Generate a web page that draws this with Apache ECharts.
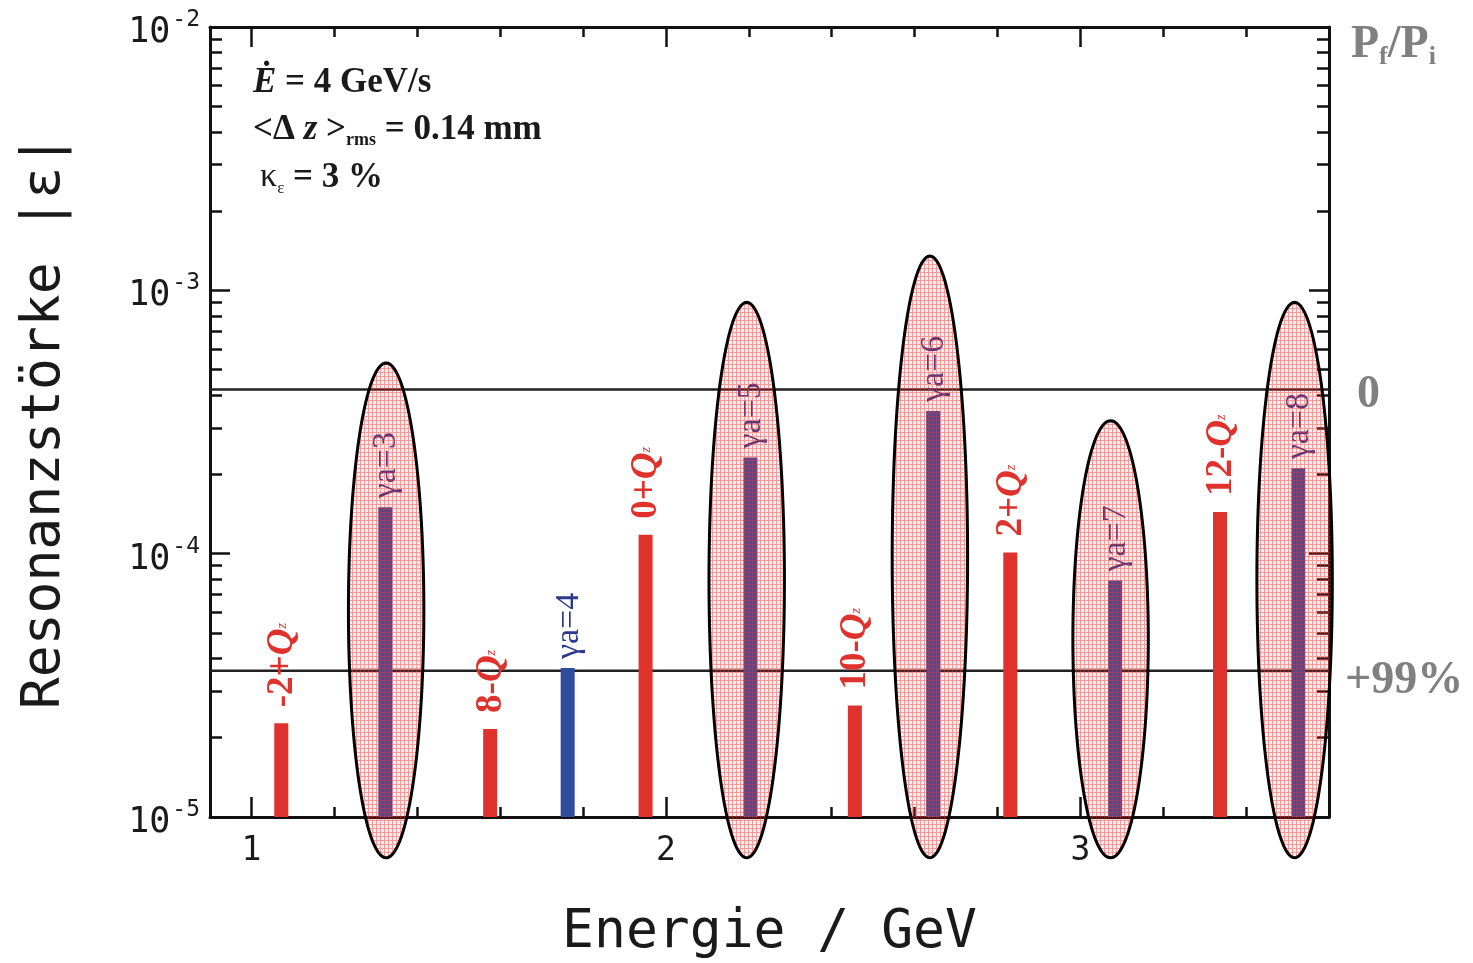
<!DOCTYPE html>
<html>
<head>
<meta charset="utf-8">
<script src="https://cdn.jsdelivr.net/npm/echarts@6/dist/echarts.min.js"></script>
<style>
  html, body { margin: 0; padding: 0; background: #fff; }
  #chart { width: 1473px; height: 963px; }
</style>
</head>
<body>
<div id="chart"></div>
<script>
// resonances
const resonanceNames = ["-2+", "γa=3", "8-", "γa=4", "0+", "γa=5", "10-", "γa=6", "2+", "γa=7", "12-", "γa=8"];
const resonanceType = ["Q", "G", "Q", "G", "Q", "G", "Q", "G", "Q", "G", "Q", "G"];
const resonanceEnergy = [1.072, 1.323, 1.576, 1.763, 1.951, 2.204, 2.456, 2.645, 2.831, 3.084, 3.337, 3.526];
const resonanceStrength = [2.27e-5, 1.50e-4, 2.16e-5, 3.68e-5, 1.18e-4, 2.32e-4, 2.65e-5, 3.48e-4, 1.01e-4, 7.9e-5, 1.44e-4, 2.11e-4];

// highlighted (crossed) resonances
const ellipseEnergy = [1.325, 2.195, 2.637, 3.073, 3.517];
const ellipseTop = [5.3e-4, 9.0e-4, 1.35e-3, 3.2e-4, 9.0e-4];
const ellipseBottom = 7.0e-6;
const ellipseHalfWidth = 0.091;

// Pf/Pi levels
const levelValues = [4.2e-4, 3.59e-5];
const levelLabels = ["0", "+99%"];

// axes
const xMin = 0.9, xMax = 3.6;
const yMin = 1e-5, yMax = 1e-2;
const xMajorTicks = [1, 2, 3];
const xMinorTicks = [1.2, 1.4, 1.6, 1.8, 2.2, 2.4, 2.6, 2.8, 3.2, 3.4];
const yMajorTicks = [1e-5, 1e-4, 1e-3, 1e-2];
const yMinorTicks = [
  2e-5, 3e-5, 4e-5, 5e-5, 6e-5, 7e-5, 8e-5, 9e-5,
  2e-4, 3e-4, 4e-4, 5e-4, 6e-4, 7e-4, 8e-4, 9e-4,
  2e-3, 3e-3, 4e-3, 5e-3, 6e-3, 7e-3, 8e-3, 9e-3
];

const RED = "#e0322d";
const BLUE = "#2f4b9c";
const GREY = "#808080";
const SERIF = "'Liberation Serif', 'Times New Roman', serif";
const MONO = "'DejaVu Sans Mono', monospace";

// pink grid used inside the ellipses (mostly transparent, red lines)
const hatch = document.createElement("canvas");
hatch.width = 4;
hatch.height = 4;
(function () {
  const c = hatch.getContext("2d");
  c.fillStyle = "rgba(255,120,120,0.10)";
  c.fillRect(0, 0, 4, 4);
  c.fillStyle = "rgba(245,45,45,0.45)";
  c.fillRect(0, 0, 4, 1);
  c.fillRect(0, 1, 1, 3);
})();

const chart = echarts.init(document.getElementById("chart"));

const frameLine = { lineStyle: { color: "#111", width: 3 } };

function xAx(position, ticks, len, extra) {
  return Object.assign({
    type: "value", position: position, min: xMin, max: xMax,
    axisLine: Object.assign({ show: true, onZero: false }, frameLine),
    axisTick: { show: true, inside: true, length: len, customValues: ticks, lineStyle: { color: "#111", width: 2.5 } },
    axisLabel: { show: false },
    splitLine: { show: false }
  }, extra || {});
}

function yAx(position, ticks, len, extra) {
  return Object.assign({
    type: "log", logBase: 10, position: position, min: yMin, max: yMax,
    axisLine: Object.assign({ show: true, onZero: false }, frameLine),
    axisTick: { show: true, inside: true, length: len, customValues: ticks, lineStyle: { color: "#111", width: 2.5 } },
    axisLabel: { show: false },
    splitLine: { show: false }
  }, extra || {});
}

const barData = resonanceEnergy.map((e, i) => [e, resonanceStrength[i], i]);
const ellipseData = ellipseEnergy.map((e, i) => [e, ellipseTop[i], ellipseBottom]);
const levelData = levelValues.map((v, i) => [xMin, v, i]);

const option = {
  animation: false,
  backgroundColor: "#fff",
  grid: { left: 210, right: 144, top: 27, bottom: 146, outerBoundsMode: "none", containLabel: false },
  xAxis: [
    xAx("bottom", xMajorTicks, 20, {
      axisLabel: { show: true, customValues: xMajorTicks, margin: 18, fontFamily: MONO, fontSize: 33, color: "#1a1a1a" },
      name: "Energie / GeV",
      nameLocation: "middle",
      nameGap: 90,
      nameTextStyle: { fontFamily: MONO, fontSize: 53, color: "#1a1a1a" }
    }),
    xAx("bottom", xMinorTicks, 10, { axisLine: { show: false } }),
    xAx("top", xMajorTicks, 20),
    xAx("top", xMinorTicks, 10, { axisLine: { show: false } })
  ],
  yAxis: [
    yAx("left", yMajorTicks, 20, {
      axisLabel: {
        show: true, customValues: yMajorTicks, margin: 10,
        formatter: (v) => "{b|10}{s|" + Math.round(Math.log10(v)) + "}",
        rich: {
          b: { fontFamily: MONO, fontSize: 35, color: "#1a1a1a", padding: [12, 0, 0, 0] },
          s: { fontFamily: MONO, fontSize: 23, color: "#1a1a1a", padding: [0, 0, 14, 2] }
        }
      },
      name: "Resonanzstörke |ε|",
      nameLocation: "middle",
      nameGap: 138,
      nameTextStyle: { fontFamily: MONO, fontSize: 53, color: "#1a1a1a" }
    }),
    yAx("left", yMinorTicks, 12, { axisLine: { show: false } }),
    yAx("right", yMajorTicks, 20),
    yAx("right", yMinorTicks, 12, { axisLine: { show: false } })
  ],
  graphic: [
    {
      type: "text", left: 253, top: 65, z: 10,
      style: {
        text: "{e|Ė}{t| = 4 GeV/s}",
        rich: {
          e: { font: "italic bold 35px " + SERIF, fill: "#1a1a1a" },
          t: { font: "bold 35px " + SERIF, fill: "#1a1a1a" }
        }
      }
    },
    {
      type: "text", left: 253, top: 112, z: 10,
      style: {
        text: "{t|<Δ }{z|z}{t| >}{r|rms}{t| = 0.14 mm}",
        rich: {
          t: { font: "bold 35px " + SERIF, fill: "#1a1a1a" },
          z: { font: "italic bold 35px " + SERIF, fill: "#1a1a1a" },
          r: { font: "bold 18px " + SERIF, fill: "#1a1a1a", padding: [22, 0, 0, 0] }
        }
      }
    },
    {
      type: "text", left: 260, top: 160, z: 10,
      style: {
        text: "{k|κ}{e|ε}{t| = 3 %}",
        rich: {
          k: { font: "34px " + SERIF, fill: "#1a1a1a" },
          e: { font: "17px " + SERIF, fill: "#1a1a1a", padding: [22, 0, 0, 0] },
          t: { font: "bold 35px " + SERIF, fill: "#1a1a1a" }
        }
      }
    },
    {
      type: "text", left: 1351, top: 22, z: 10,
      style: {
        text: "{p|P}{i|f}{p|/P}{i|i}",
        rich: {
          p: { font: "bold 46px " + SERIF, fill: GREY },
          i: { font: "bold 26px " + SERIF, fill: GREY, padding: [24, 0, 0, 0] }
        }
      }
    }
  ],
  series: [
    {
      // Pf/Pi reference levels
      type: "custom",
      xAxisIndex: 0,
      yAxisIndex: 0,
      z: 3,
      clip: false,
      data: levelData,
      renderItem: function (params, api) {
        const idx = api.value(2);
        const a = api.coord([xMin, api.value(1)]);
        const b = api.coord([xMax, api.value(1)]);
        return {
          type: "group",
          children: [
            {
              type: "line",
              shape: { x1: a[0], y1: a[1], x2: b[0], y2: b[1] },
              style: { stroke: "#222", lineWidth: 2.5 }
            },
            {
              type: "text",
              x: b[0] + (idx === 0 ? 28 : 16),
              y: b[1] + (idx === 0 ? 6 : 10),
              style: {
                text: levelLabels[idx],
                align: "left",
                verticalAlign: "middle",
                font: "bold 46px " + SERIF,
                fill: GREY
              }
            }
          ]
        };
      }
    },
    {
      // resonance strengths
      type: "custom",
      xAxisIndex: 0,
      yAxisIndex: 0,
      z: 4,
      data: barData,
      renderItem: function (params, api) {
        const e = api.value(0);
        const s = api.value(1);
        const idx = api.value(2);
        const top = api.coord([e, s]);
        const base = api.coord([e, yMin]);
        const isGamma = resonanceType[idx] === "G";
        const w = 14;
        const label = isGamma
          ? { text: "{g|" + resonanceNames[idx] + "}", gap: 9 }
          : { text: "{n|" + resonanceNames[idx] + "}{q|Q}{z|z}", gap: 16 };
        return {
          type: "group",
          children: [
            {
              type: "rect",
              shape: { x: top[0] - w / 2, y: top[1], width: w, height: base[1] - top[1] },
              style: { fill: isGamma ? BLUE : RED }
            },
            {
              type: "text",
              x: top[0] + 1,
              y: top[1] - label.gap,
              rotation: Math.PI / 2,
              style: {
                text: label.text,
                align: "left",
                verticalAlign: "middle",
                rich: {
                  g: { font: "34px " + SERIF, fill: "#2c3a8e" },
                  n: { font: "bold 37px " + SERIF, fill: RED },
                  q: { font: "italic bold 37px " + SERIF, fill: RED },
                  z: { font: "italic 14px " + SERIF, fill: RED }
                }
              }
            }
          ]
        };
      }
    },
    {
      // marked resonances
      type: "custom",
      xAxisIndex: 0,
      yAxisIndex: 0,
      z: 6,
      clip: false,
      data: ellipseData,
      renderItem: function (params, api) {
        const e = api.value(0);
        const t = api.coord([e, api.value(1)]);
        const b = api.coord([e, api.value(2)]);
        const r = api.coord([e + ellipseHalfWidth, api.value(1)]);
        const cx = t[0];
        const cy = (t[1] + b[1]) / 2;
        const rx = r[0] - t[0];
        const ry = (b[1] - t[1]) / 2;
        const pts = [];
        for (let k = 0; k < 120; k++) {
          const a = (k / 120) * Math.PI * 2;
          pts.push([cx + rx * Math.cos(a), cy + ry * Math.sin(a)]);
        }
        return {
          type: "polygon",
          shape: { points: pts },
          style: {
            fill: { image: hatch, repeat: "repeat" },
            stroke: "#000",
            lineWidth: 3
          }
        };
      }
    }
  ]
};

chart.setOption(option);
</script>
</body>
</html>
